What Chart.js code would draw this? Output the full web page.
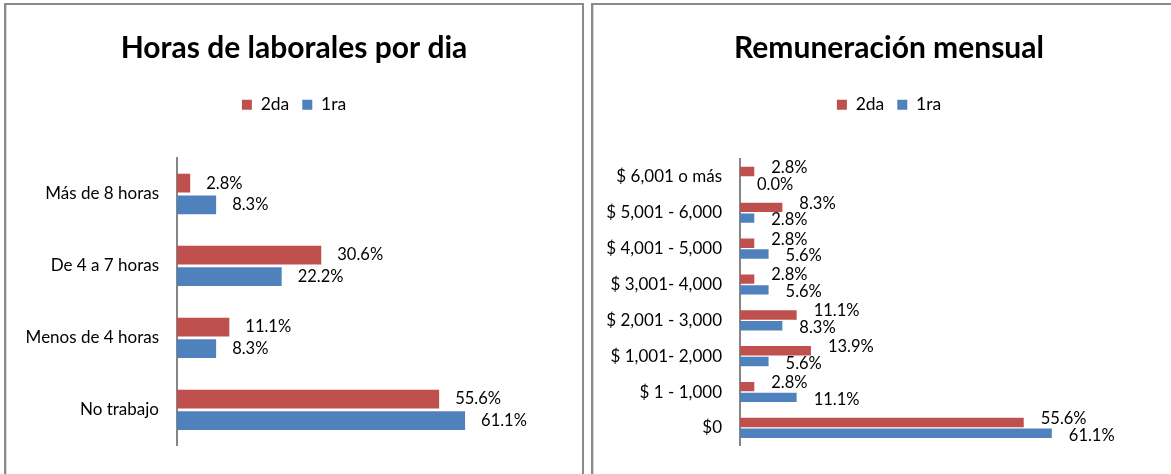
<!DOCTYPE html>
<html>
<head>
<meta charset="utf-8">
<script src="https://cdn.jsdelivr.net/npm/chart.js@4.4.0/dist/chart.umd.min.js"></script>
<style>
html,body{margin:0;padding:0;background:#fff;overflow:hidden;width:1171px;height:474px;}
.box{position:absolute;top:3px;border:2px solid #8a8a8a;border-bottom:none;height:480px;box-shadow:inset 1px 0 0 #d8d8d8;}
#boxL{left:4px;width:576px;}
#boxR{left:591px;width:600px;}
canvas{position:absolute;left:0;top:0;}
</style>
</head>
<body>
<div class="box" id="boxL"><canvas id="horasChart" width="576" height="469"></canvas></div>
<div class="box" id="boxR"><canvas id="remuChart" width="592" height="469"></canvas></div>
<script>
// datos
const horasLabels=['Más de 8 horas','De 4 a 7 horas','Menos de 4 horas','No trabajo'];
const horas2da=[2.8,30.6,11.1,55.6];
const horas1ra=[8.3,22.2,8.3,61.1];

const remuLabels=['$ 6,001 o más','$ 5,001 - 6,000','$ 4,001 - 5,000','$ 3,001- 4,000','$ 2,001 - 3,000','$ 1,001- 2,000','$ 1 - 1,000','$0'];
const remu2da=[2.8,8.3,2.8,2.8,11.1,13.9,2.8,55.6];
const remu1ra=[0.0,2.8,5.6,5.6,8.3,5.6,11.1,61.1];

const RED='#C0504D', BLUE='#4F81BD';
const FONT='Lato, "Open Sans", sans-serif';

// etiquetas de valor a la derecha de cada barra
const valueLabels={
  id:'valueLabels',
  afterDatasetsDraw(chart,args,opts){
    const ctx=chart.ctx;
    ctx.save();
    ctx.font=opts.size+'px '+FONT;
    ctx.fillStyle='#000';
    ctx.textAlign='left';ctx.textBaseline='middle';
    chart.data.datasets.forEach((ds,i)=>{
      const meta=chart.getDatasetMeta(i);
      meta.data.forEach((bar,j)=>{
        ctx.fillText(ds.data[j].toFixed(1)+'%',bar.x+opts.dx,bar.y+opts.dy[i]);
      });
    });
    ctx.restore();
  }
};

// espacio extra debajo de la leyenda
const legendGap={
  id:'legendGap',
  beforeInit(chart){
    const orig=chart.legend.fit;
    chart.legend.fit=function(){orig.call(this);this.height+=chart.options.plugins.legendGap.extra;};
  }
};

function makeChart(id,title,labels,d2,d1,axisW,xMax,gap,dx,dy){
  return new Chart(document.getElementById(id),{
    type:'bar',
    data:{labels,datasets:[
      {label:'2da',data:d2,backgroundColor:RED,categoryPercentage:0.6,barPercentage:0.87},
      {label:'1ra',data:d1,backgroundColor:BLUE,categoryPercentage:0.6,barPercentage:0.87}
    ]},
    options:{
      indexAxis:'y',
      responsive:false,
      animation:false,
      layout:{padding:{left:0,right:0,top:0,bottom:27}},
      scales:{
        x:{display:false,min:0,max:xMax},
        y:{
          grid:{display:false,drawTicks:false},
          border:{display:true,color:'#868686',width:2},
          ticks:{color:'#000',padding:18,font:{family:FONT,size:17}},
          afterFit(s){s.width=axisW;}
        }
      },
      plugins:{
        title:{display:true,text:title,color:'#000',font:{family:FONT,size:30,weight:'bold'},padding:{top:25,bottom:17}},
        legend:{display:true,labels:{color:'#000',boxWidth:10,boxHeight:10,padding:13,font:{family:FONT,size:17.5}}},
        legendGap:{extra:gap},
        tooltip:{enabled:false},
        valueLabels:{size:16.5,dx:dx,dy:dy}
      }
    },
    plugins:[valueLabels,legendGap]
  });
}

makeChart('horasChart','Horas de laborales por dia',horasLabels,horas2da,horas1ra,171,85.9,34.5,16,[0,0]);
makeChart('remuChart','Remuneración mensual',remuLabels,remu2da,remu1ra,147,87.2,35.5,17,[-4,2]);
</script>
</body>
</html>
